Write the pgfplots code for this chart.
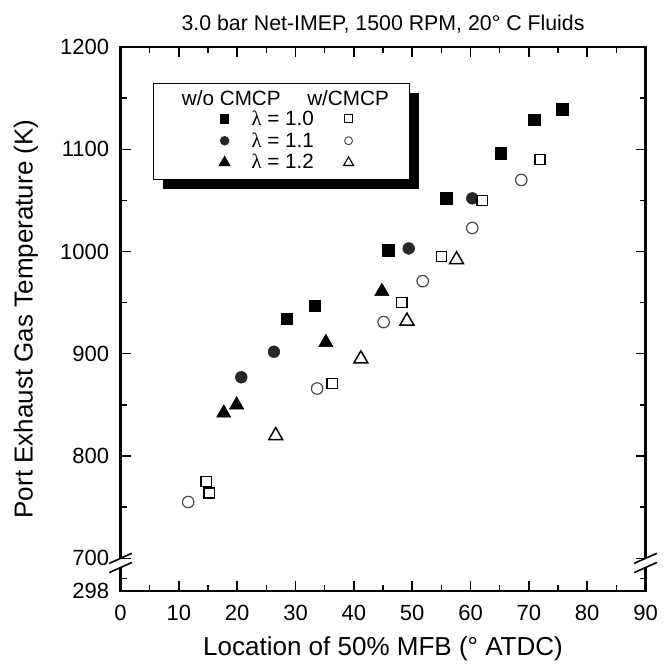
\documentclass[border=0pt]{standalone}
\usepackage{pgfplots}
\pgfplotsset{compat=1.18}
\usepackage{fontspec}
\setmainfont{Liberation Sans}
\newfontfamily\greekfont{Liberation Serif}
\usetikzlibrary{shadows}
\definecolor{dk}{HTML}{262626}
\definecolor{og}{HTML}{4A4A4A}
\begin{document}
\begin{tikzpicture}
\path[use as bounding box] (-90.4pt,-57pt) rectangle (407.6pt,443.25pt);
\begin{axis}[
  at={(0,0)}, anchor=south west,
  scale only axis, width=393.75pt, height=408pt,
  xmin=0, xmax=90, ymin=668, ymax=1200,
  xtick={0,10,...,90}, minor xtick={5,15,...,85},
  ytick={668,700,800,900,1000,1100,1200},
  yticklabels={298,700,800,900,1000,1100,1200},
  minor ytick={680,750,850,950,1050,1150},
  tick align=inside, major tick length=7.5pt, minor tick length=4.5pt,
  every tick/.style={black, line width=1.1pt},
  axis line style={line width=1.6pt},
  /pgf/number format/assume math mode=true,
  ticklabel style={font=\fontsize{16.5}{18}\selectfont},
  xticklabel style={yshift=-7pt},
  yticklabel style={xshift=-5pt},
  xlabel={Location of 50\% MFB (° ATDC)},
  ylabel={Port Exhaust Gas Temperature (K)},
  label style={font=\fontsize{19.5}{22}\selectfont},
  xlabel style={at={(0.5,0)}, anchor=base, yshift=-48pt},
  ylabel style={at={(0,0.5)}, anchor=base, rotate=0, yshift=66pt},
  title={3.0 bar Net-IMEP, 1500 RPM, 20° C Fluids},
  title style={font=\fontsize{16}{18}\selectfont, yshift=1pt},
  clip=false,
  legend columns=2,
  legend style={
    at={(0.061,0.934)}, anchor=north west,
    draw=black, line width=1.1pt, fill=white,
    drop shadow={shadow xshift=7pt, shadow yshift=-7pt, fill=black, opacity=1},
    font=\fontsize{15.5}{17}\selectfont,
    inner xsep=21pt, inner ysep=5pt,
    row sep=1pt,
    nodes={inner sep=1.5pt},
    /tikz/column 1/.style={column sep=15pt},
    /tikz/column 2/.style={column sep=16pt},
    /tikz/column 3/.style={column sep=18pt},
  },
]
% legend entries
\addlegendimage{legend image code/.code={\node[inner sep=0pt, anchor=base west] at (-24.5pt,-4pt) {\rlap{w/o CMCP}};}}
\addlegendentry{}
\addlegendimage{legend image code/.code={\node[overlay, inner sep=0pt, anchor=base west] at (-23pt,-4pt) {w/CMCP};}}
\addlegendentry{}
\addlegendimage{only marks, mark=square*, mark size=3pt, black}
\addlegendentry{{\greekfont λ} = 1.0}
\addlegendimage{only marks, mark=square*, mark size=3pt, black, fill=white, line width=0.8pt}
\addlegendentry{}
\addlegendimage{only marks, mark=*, mark size=3pt, dk}
\addlegendentry{{\greekfont λ} = 1.1}
\addlegendimage{only marks, mark=o, mark size=3pt, og, line width=0.7pt}
\addlegendentry{}
\addlegendimage{only marks, mark=triangle*, mark size=4.3pt, black}
\addlegendentry{{\greekfont λ} = 1.2}
\addlegendimage{only marks, mark=triangle*, mark size=4.3pt, black, fill=white, line width=0.8pt}
\addlegendentry{}
% data: without CMCP
\addplot[only marks, mark=square*, mark size=4.3pt, black, forget plot] coordinates {
 (28.5,934) (33.3,947) (45.9,1001) (55.8,1052) (65.2,1096) (70.9,1129) (75.7,1139)};
\addplot[only marks, mark=*, mark size=4.4pt, dk, forget plot] coordinates {
 (20.7,877) (26.3,902) (49.4,1003) (60.3,1052)};
\addplot[only marks, mark=triangle*, mark size=6.2pt, black, forget plot] coordinates {
 (17.7,842) (19.9,850) (35.2,911) (44.8,961)};
% data: with CMCP
\addplot[only marks, mark=square*, mark size=3.8pt, black, fill=white, line width=1.1pt, forget plot] coordinates {
 (14.7,775) (15.2,764) (36.3,871) (48.2,950) (55.0,995) (62.0,1050) (71.9,1090)};
\addplot[only marks, mark=*, mark size=4.3pt, og, fill=white, line width=0.9pt, forget plot] coordinates {
 (11.6,755) (33.7,866) (45.1,931) (51.8,971) (60.3,1023) (68.7,1070)};
\addplot[only marks, mark=triangle*, mark size=6pt, black, fill=white, line width=1.1pt, forget plot] coordinates {
 (26.6,820) (41.2,895) (49.1,932) (57.6,992)};
\end{axis}
% axis break marks (left and right)
\fill[white] (-2pt,17.9pt) rectangle (2pt,24.2pt);
\fill[white] (391.75pt,17.9pt) rectangle (395.75pt,24.2pt);
\foreach \xx in {0pt,393.75pt}{
  \draw[line width=1.2pt] ([shift={(-8.5pt,-3.8pt)}]\xx,24.5pt) -- ([shift={(8.5pt,3.8pt)}]\xx,24.5pt);
  \draw[line width=1.2pt] ([shift={(-8.5pt,-3.8pt)}]\xx,17.6pt) -- ([shift={(8.5pt,3.8pt)}]\xx,17.6pt);
}
\end{tikzpicture}
\end{document}
